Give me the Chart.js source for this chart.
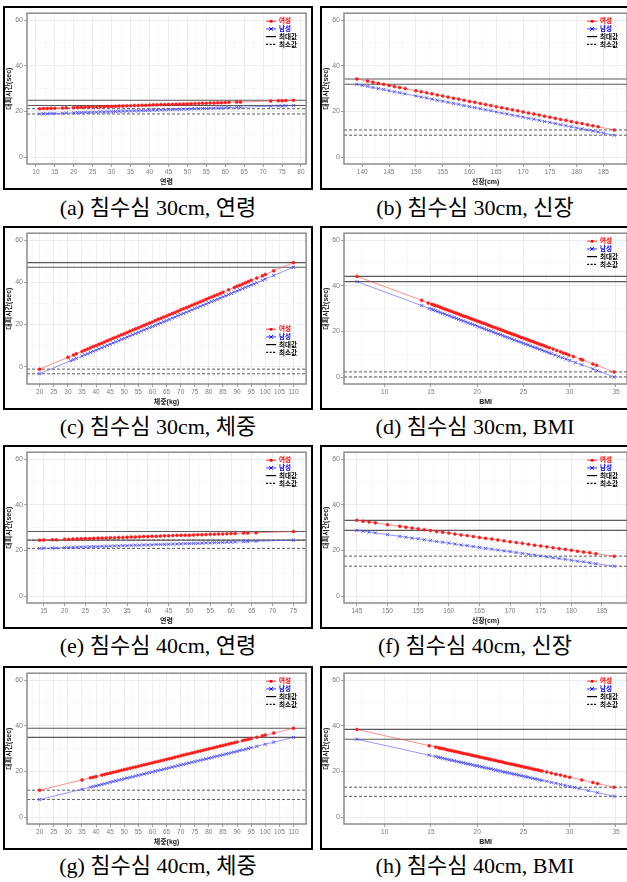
<!DOCTYPE html>
<html lang="ko">
<head>
<meta charset="UTF-8" />
<title>침수심별 대피시간</title>
<script src="https://cdn.jsdelivr.net/npm/chart.js"></script>
<style>
  html, body { margin: 0; padding: 0; background: #fff; overflow: hidden; }
  body { width: 627px; height: 882px; position: relative; }
  .panel { position: absolute; border: 2px solid #000; width: 306px; height: 180px; }
  .panel.r { width: 310px; }
  .panel canvas { display: block; }
  .cap { position: absolute; width: 310px; height: 26px; line-height: 26px; text-align: center;
         font-family: "Liberation Serif", "Noto Sans CJK KR", serif; font-size: 22px; color: #000; white-space: nowrap; }
</style>
</head>
<body>

<!-- row 1 -->
<div class="panel" style="left:3px; top:6px;"><canvas id="cA" width="306" height="180"></canvas></div>
<div class="panel r" style="left:320px; top:6px;"><canvas id="cB" width="310" height="180"></canvas></div>
<div class="cap" style="left:3px; top:195px;">(a) 침수심 30cm, 연령</div>
<div class="cap" style="left:320px; top:195px;">(b) 침수심 30cm, 신장</div>

<!-- row 2 -->
<div class="panel" style="left:3px; top:226px;"><canvas id="cC" width="306" height="180"></canvas></div>
<div class="panel r" style="left:320px; top:226px;"><canvas id="cD" width="310" height="180"></canvas></div>
<div class="cap" style="left:3px; top:414px;">(c) 침수심 30cm, 체중</div>
<div class="cap" style="left:320px; top:414px;">(d) 침수심 30cm, BMI</div>

<!-- row 3 -->
<div class="panel" style="left:3px; top:445px;"><canvas id="cE" width="306" height="180"></canvas></div>
<div class="panel r" style="left:320px; top:445px;"><canvas id="cF" width="310" height="180"></canvas></div>
<div class="cap" style="left:3px; top:633px;">(e) 침수심 40cm, 연령</div>
<div class="cap" style="left:320px; top:633px;">(f) 침수심 40cm, 신장</div>

<!-- row 4 -->
<div class="panel" style="left:3px; top:666px;"><canvas id="cG" width="306" height="180"></canvas></div>
<div class="panel r" style="left:320px; top:666px;"><canvas id="cH" width="310" height="180"></canvas></div>
<div class="cap" style="left:3px; top:853px;">(g) 침수심 40cm, 체중</div>
<div class="cap" style="left:320px; top:853px;">(h) 침수심 40cm, BMI</div>

<script>
// ---- tick labels ----
const yTicks = [0, 20, 40, 60];
const ageTicksA = [10, 15, 20, 25, 30, 35, 40, 45, 50, 55, 60, 65, 70, 75, 80];
const heightTicksB = [140, 145, 150, 155, 160, 165, 170, 175, 180, 185];
const weightTicks = [20, 25, 30, 35, 40, 45, 50, 55, 60, 65, 70, 75, 80, 85, 90, 95, 100, 105, 110];
const bmiTicks = [10, 15, 20, 25, 30, 35];
const ageTicksE = [15, 20, 25, 30, 35, 40, 45, 50, 55, 60, 65, 70, 75];
const heightTicksF = [145, 150, 155, 160, 165, 170, 175, 180, 185];

// ---- (a) 30cm, 연령 ----
const aAge = [11,12,13,14,15,17,18,20,21,22,23,24,25,26,27,28,29,30,31,32,33,34,35,36,37,38,39,40,41,42,43,44,45,46,47,48,49,50,51,52,53,54,55,56,57,58,59,60,61,63,64,72,74,75,76,78];
const aFemale = [21.2,21.3,21.3,21.4,21.4, 21.5,21.6,
  21.7,21.8,21.8,21.9,21.9,22.0,22.0,22.1,22.1,22.2,
  22.2,22.3,22.4,22.4,22.5,22.5,22.6,22.6,22.7,22.7,
  22.8,22.9,22.9,23.0,23.0,23.1,23.1,23.2,23.2,23.3,
  23.3,23.4,23.5,23.5,23.6,23.6,23.7,23.7,23.8,23.8,
  23.9,24.0, 24.1,24.1, 24.6,24.7,24.7,24.8,24.9];
const aMale = [18.9,19.0,19.0,19.1,19.1, 19.2,19.3,
  19.4,19.5,19.5,19.6,19.6,19.7,19.7,19.8,19.8,19.9,
  19.9,20.0,20.1,20.1,20.2,20.2,20.3,20.3,20.4,20.4,
  20.5,20.6,20.6,20.7,20.7,20.8,20.8,20.9,20.9,21.0,
  21.0,21.1,21.2,21.2,21.3,21.3,21.4,21.4,21.5,21.5,
  21.6,21.7, 21.8,21.8, 22.3,22.4,22.4,22.5,22.6];
const aMax = [24.9, 22.6];
const aMin = [21.2, 18.9];

// ---- (b) 30cm, 신장 ----
const bHeightF = [139,141,142,143,144,145,146,147,148,150,151,152,153,154,155,156,157,158,159,160,161,162,163,164,165,166,167,168,169,170,171,172,173,174,175,176,177,178,179,180,181,182,183,184,187];
const bFemale = [34.2, 33.3,32.8,32.3,31.9,31.4,30.9,30.5,30.0,
  29.1,28.6,28.2,27.7,27.2,26.8,26.3,25.8,25.4,24.9,
  24.4,24.0,23.5,23.0,22.6,22.1,21.6,21.2,20.7,20.3,
  19.8,19.3,18.9,18.4,17.9,17.5,17.0,16.5,16.1,15.6,
  15.1,14.7,14.2,13.7,13.3, 11.9];
const bHeightM = [139,140,141,142,143,144,145,146,147,148,150,151,152,153,154,155,156,157,158,159,160,161,162,163,164,165,166,167,168,169,170,171,172,173,174,175,176,177,178,179,180,181,182,183,184,185,187];
const bMale = [31.9,31.4,31.0,30.5,30.0,29.6,29.1,28.6,28.2,27.7,
  26.8,26.3,25.9,25.4,24.9,24.5,24.0,23.5,23.1,22.6,
  22.1,21.7,21.2,20.7,20.3,19.8,19.3,18.9,18.4,18.0,
  17.5,17.0,16.6,16.1,15.6,15.2,14.7,14.2,13.8,13.3,
  12.8,12.4,11.9,11.4,11.0,10.5, 9.6];
const bMax = [34.2, 31.9];
const bMin = [11.9, 9.6];

// ---- (c) 30cm, 체중 ----
const cWeightF = [20,30,32,33,35,36,37,38,39,40,41,42,43,44,45,46,47,48,49,50,51,52,53,54,55,56,57,58,59,60,61,62,63,64,65,66,67,68,69,70,71,72,73,74,75,76,77,78,79,80,81,82,83,84,85,87,89,90,91,92,93,94,95,97,99,100,103,110];
const cFemale = [-1.2,4.4,5.5,6.1,
  7.2,7.8,8.3,8.9,9.5,
  10.0,10.6,11.1,11.7,12.3,12.8,13.4,13.9,14.5,15.1,
  15.6,16.2,16.8,17.3,17.9,18.4,19.0,19.6,20.1,20.7,
  21.2,21.8,22.4,22.9,23.5,24.0,24.6,25.2,25.7,26.3,
  26.9,27.4,28.0,28.5,29.1,29.7,30.2,30.8,31.3,31.9,
  32.5,33.0,33.6,34.1,34.7,35.3,
  36.4,37.5,38.1,38.6,39.2,39.8,40.3,40.9,42.0,43.1,43.7,45.4,49.3];
const cWeightM = [20,31,32,33,35,36,37,38,39,40,41,42,43,44,45,46,47,48,49,50,51,52,53,54,55,56,57,58,59,60,61,62,63,64,65,66,67,68,69,70,71,72,73,74,75,76,77,78,79,80,81,82,83,84,85,86,87,88,89,90,91,92,93,94,95,96,97,99,100,103,110];
const cMale = [-3.4,2.8,3.3,3.9,
  5.0,5.6,6.1,6.7,7.3,
  7.8,8.4,8.9,9.5,10.1,10.6,11.2,11.7,12.3,12.9,
  13.4,14.0,14.6,15.1,15.7,16.2,16.8,17.4,17.9,18.5,
  19.0,19.6,20.2,20.7,21.3,21.8,22.4,23.0,23.5,24.1,
  24.7,25.2,25.8,26.3,26.9,27.5,28.0,28.6,29.1,29.7,
  30.3,30.8,31.4,31.9,32.5,33.1,33.6,34.2,34.7,35.3,
  35.9,36.4,37.0,37.6,38.1,38.7,39.2,39.8,
  40.9,41.5,43.2,47.1];
const cMax = [49.3, 47.1];
const cMin = [-1.2, -3.4];

// ---- (d) 30cm, BMI ----
const dBmiF = [7,14,14.7,15.1,15.3,
  15.5,15.75,16,16.25,16.5,16.75,17,17.25,17.5,17.75,
  18,18.25,18.5,18.75,19,19.25,19.5,19.75,20,20.25,
  20.5,20.75,21,21.25,21.5,21.75,22,22.25,22.5,22.75,
  23,23.25,23.5,23.75,24,24.25,24.5,24.75,25,25.25,
  25.5,25.75,26,26.25,26.5,26.75,27,27.25,27.5,
  27.8,28.2,28.6,29,29.3,29.6,29.9,30.4,31.2,31.4,32.5,32.9,34.8];
const dFemale = [44.1,33.6,32.5,31.9,31.6,
  31.3,31.0,30.6,30.2,29.8,29.5,29.1,28.7,28.3,28.0,
  27.6,27.2,26.8,26.5,26.1,25.7,25.3,25.0,24.6,24.2,
  23.8,23.5,23.1,22.7,22.3,21.9,21.6,21.2,20.8,20.4,
  20.1,19.7,19.3,18.9,18.6,18.2,17.8,17.4,17.1,16.7,
  16.3,15.9,15.6,15.2,14.8,14.4,14.1,13.7,13.3,
  12.9,12.3,11.7,11.1,10.6,10.2,9.7,9.0,7.8,7.5,5.8,5.2,2.3];
const dBmiM = [7,14,14.8,15.1,
  15.25,15.5,15.75,16,16.25,16.5,16.75,17,17.25,17.5,17.75,
  18,18.25,18.5,18.75,19,19.25,19.5,19.75,20,20.25,
  20.5,20.75,21,21.25,21.5,21.75,22,22.25,22.5,22.75,
  23,23.25,23.5,23.75,24,24.25,24.5,24.75,25,25.25,
  25.5,25.75,26,26.25,26.5,26.75,27,27.25,27.5,27.75,28,
  28.4,28.8,29.2,29.6,30,30.6,31.3,32.5,33,34.8];
const dMale = [41.8,31.3,30.1,29.7,
  29.4,29.1,28.7,28.3,27.9,27.6,27.2,26.8,26.4,26.1,25.7,
  25.3,24.9,24.6,24.2,23.8,23.4,23.1,22.7,22.3,21.9,
  21.6,21.2,20.8,20.4,20.1,19.7,19.3,18.9,18.6,18.2,
  17.8,17.4,17.1,16.7,16.3,15.9,15.6,15.2,14.8,14.4,
  14.1,13.7,13.3,12.9,12.6,12.2,11.8,11.4,11.1,10.7,10.3,
  9.7,9.1,8.5,7.9,7.3,6.4,5.4,3.6,2.8,0.1];
const dMax = [44.1, 41.8];
const dMin = [2.3, 0.1];

// ---- (e) 40cm, 연령 ----
const eAge = [14,15,17,18,20,21,22,23,24,25,26,27,28,29,30,31,32,33,34,35,36,37,38,39,40,41,42,43,44,45,46,47,48,49,50,51,52,53,54,55,56,57,58,59,60,61,63,64,66,75];
const eFemale = [24.5,24.6,24.7,24.7,
  24.9,24.9,25.0,25.1,25.1,25.2,25.2,25.3,25.4,25.4,
  25.5,25.6,25.6,25.7,25.7,25.8,25.9,25.9,26.0,26.1,
  26.1,26.2,26.2,26.3,26.4,26.4,26.5,26.6,26.6,26.7,
  26.7,26.8,26.9,26.9,27.0,27.1,27.1,27.2,27.2,27.3,
  27.4,27.4, 27.6,27.6,27.7,28.3];
const eMale = [20.9,21.0,21.1,21.1,
  21.3,21.3,21.4,21.4,21.5,21.5,21.6,21.7,21.7,21.8,
  21.8,21.9,22.0,22.0,22.1,22.1,22.2,22.3,22.3,22.4,
  22.4,22.5,22.6,22.6,22.7,22.7,22.8,22.8,22.9,23.0,
  23.0,23.1,23.1,23.2,23.3,23.3,23.4,23.4,23.5,23.6,
  23.6,23.7, 23.8,23.9,24.0,24.5];
const eMax = [28.3, 24.5];
const eMin = [24.5, 20.9];

// ---- (f) 40cm, 신장 ----
const fHeight = [145,146,147,148,150,152,153,154,155,156,157,158,159,160,161,162,163,164,165,166,167,168,169,170,171,172,173,174,175,176,177,178,179,180,181,182,183,184,187];
const fFemale = [33.2,32.8,32.5,32.1,31.3,30.6,
  30.2,29.8,29.5,29.1,28.7,28.3,28.0,27.6,27.2,26.8,
  26.5,26.1,25.7,25.3,25.0,24.6,24.2,23.8,23.5,23.1,
  22.7,22.3,22.0,21.6,21.2,20.8,20.5,20.1,19.7,19.3,
  19.0,18.6, 17.5];
const fMale = [28.8,28.4,28.1,27.7,26.9,26.2,
  25.8,25.4,25.1,24.7,24.3,23.9,23.6,23.2,22.8,22.4,
  22.1,21.7,21.3,20.9,20.6,20.2,19.8,19.5,19.1,18.7,
  18.3,18.0,17.6,17.2,16.8,16.5,16.1,15.7,15.3,15.0,
  14.6,14.2, 13.1];
const fMax = [33.2, 28.8];
const fMin = [17.5, 13.1];

// ---- (g) 40cm, 체중 ----
const gWeightF = [20,35,38,39,40,42,43,44,45,46,47,48,49,50,51,52,53,54,55,56,57,58,59,60,61,62,63,64,65,66,67,68,69,70,71,72,73,74,75,76,77,78,79,80,81,82,83,84,85,86,87,88,89,90,92,93,94,95,97,99,100,103,110];
const gFemale = [11.8,16.3,17.2,17.5,17.8,
  18.4,18.7,19.0,19.3,19.6,19.9,20.2,20.5,
  20.8,21.1,21.4,21.7,22.0,22.3,22.6,22.9,23.2,23.5,
  23.8,24.1,24.4,24.7,25.0,25.3,25.6,25.9,26.2,26.5,
  26.9,27.2,27.5,27.8,28.1,28.4,28.7,29.0,29.3,29.6,
  29.9,30.2,30.5,30.8,31.1,31.4,31.7,32.0,32.3,32.6,
  32.9, 33.5,33.8,34.1,34.4,35.0,35.6,35.9,36.8,38.9];
const gWeightM = [20,35,38,39,40,41,42,43,44,45,46,47,48,49,50,51,52,53,54,55,56,57,58,59,60,61,62,63,64,65,66,67,68,69,70,71,72,73,74,75,76,77,78,79,80,81,82,83,84,85,86,87,88,89,90,91,92,93,94,95,97,100,103,110];
const gMale = [7.7,12.2,13.1,13.4,
  13.7,14.0,14.3,14.6,14.9,15.3,15.6,15.9,16.2,16.5,
  16.8,17.1,17.4,17.7,18.0,18.3,18.6,18.9,19.2,19.5,
  19.8,20.1,20.4,20.7,21.0,21.3,21.6,21.9,22.2,22.5,
  22.8,23.1,23.4,23.7,24.0,24.3,24.6,24.9,25.2,25.5,
  25.8,26.1,26.4,26.7,27.0,27.3,27.6,27.9,28.2,28.5,
  28.8,29.2,29.4,29.7,30.1,30.4,
  31.0,31.9,32.8,34.9];
const gMax = [38.9, 34.9];
const gMin = [11.8, 7.7];

// ---- (h) 40cm, BMI ----
const hBmiF = [7,14.8,15.5,15.8,
  16,16.25,16.5,16.75,17,17.25,17.5,17.75,18,18.25,
  18.5,18.75,19,19.25,19.5,19.75,20,20.25,20.5,20.75,
  21,21.25,21.5,21.75,22,22.25,22.5,22.75,23,23.25,
  23.5,23.75,24,24.25,24.5,24.75,25,25.25,25.5,25.75,
  26,26.25,26.5,26.75,27,
  27.5,28,28.5,29,29.5,30,31.3,32.5,33,34.8];
const hFemale = [38.4,31.3,30.7,30.4,
  30.2,30.0,29.8,29.5,29.3,29.1,28.8,28.6,28.4,28.2,
  27.9,27.7,27.5,27.3,27.0,26.8,26.6,26.3,26.1,25.9,
  25.7,25.4,25.2,25.0,24.8,24.5,24.3,24.1,23.8,23.6,
  23.4,23.2,22.9,22.7,22.5,22.3,22.0,21.8,21.6,21.3,
  21.1,20.9,20.7,20.4,20.2,
  19.8,19.3,18.8,18.4,17.9,17.5,16.3,15.2,14.7,13.1];
const hBmiM = [7,14.8,15.5,15.8,
  16,16.25,16.5,16.75,17,17.25,17.5,17.75,18,18.25,
  18.5,18.75,19,19.25,19.5,19.75,20,20.25,20.5,20.75,
  21,21.25,21.5,21.75,22,22.25,22.5,22.75,23,23.25,
  23.5,23.75,24,24.25,24.5,24.75,25,25.25,25.5,25.75,
  26,26.25,26.5,26.75,27,
  27.5,28,28.5,29,29.5,30,30.5,31,32,33,34.8];
const hMale = [34.1,27.1,26.5,26.2,
  26.0,25.8,25.6,25.3,25.1,24.9,24.7,24.4,24.2,24.0,
  23.8,23.5,23.3,23.1,22.9,22.6,22.4,22.2,22.0,21.7,
  21.5,21.3,21.1,20.8,20.6,20.4,20.2,19.9,19.7,19.5,
  19.3,19.0,18.8,18.6,18.4,18.1,17.9,17.7,17.5,17.2,
  17.0,16.8,16.6,16.3,16.1,
  15.7,15.2,14.8,14.3,13.9,13.4,13.0,12.5,11.6,10.7,9.1];
const hMax = [38.4, 34.1];
const hMin = [13.1, 9.1];

Chart.defaults.font.family = "'Liberation Sans', 'Noto Sans CJK KR', sans-serif";
Chart.defaults.animation = false;

const pts = (xs, ys) => xs.map((x, i) => ({ x: x, y: ys[i] }));

// major ticks plus minor midpoints (for the light minor grid)
function tickBuilder(major) {
  return scale => {
    const out = [];
    for (let i = 0; i < major.length; i++) {
      const step = i < major.length - 1 ? major[i + 1] - major[i] : major[i] - major[i - 1];
      if (i === 0 && major[0] - step / 2 >= scale.min) out.push({ value: major[0] - step / 2 });
      out.push({ value: major[i] });
      const mid = major[i] + step / 2;
      if (mid <= scale.max) out.push({ value: mid });
    }
    scale.ticks = out.filter(t => t.value >= scale.min && t.value <= scale.max);
  };
}

const hlines = {
  id: 'hlines',
  beforeDatasetsDraw(chart, args, opts) {
    const { ctx, chartArea: a, scales: { y } } = chart;
    ctx.save();
    ctx.strokeStyle = '#5a5a5a';
    ctx.lineWidth = 1.2;
    opts.max.forEach(v => {
      const py = y.getPixelForValue(v);
      ctx.beginPath(); ctx.moveTo(a.left, py); ctx.lineTo(a.right, py); ctx.stroke();
    });
    ctx.setLineDash([3, 2]);
    ctx.lineWidth = 1;
    opts.min.forEach(v => {
      const py = y.getPixelForValue(v);
      ctx.beginPath(); ctx.moveTo(a.left, py); ctx.lineTo(a.right, py); ctx.stroke();
    });
    ctx.restore();
  }
};

const frame = {
  id: 'frame',
  afterDatasetsDraw(chart) {
    const { ctx, chartArea: a } = chart;
    ctx.save();
    ctx.strokeStyle = '#8c8c8c';
    ctx.lineWidth = 1.5;
    ctx.strokeRect(a.left, a.top, a.right - a.left, a.bottom - a.top);
    ctx.restore();
  }
};

const keyLegend = {
  id: 'keyLegend',
  afterDraw(chart, args, opts) {
    const { ctx, chartArea: a } = chart;
    const x0 = a.right - 40, x1 = a.right - 30, tx = a.right - 27;
    const items = [
      { text: '여성', color: '#ff0000', line: 'rgba(255,40,40,0.8)', mark: 'dot' },
      { text: '남성', color: '#0000ff', line: 'rgba(40,40,255,0.8)', mark: 'x' },
      { text: '최대값', color: '#000', line: '#000', dash: [] },
      { text: '최소값', color: '#000', line: '#000', dash: [2, 1.5] }
    ];
    ctx.save();
    ctx.font = "bold 6.5px 'Liberation Sans', 'Noto Sans CJK KR', sans-serif";
    ctx.textBaseline = 'middle';
    items.forEach((it, i) => {
      const y = a.top + opts.top + i * 7.7;
      ctx.strokeStyle = it.line;
      ctx.lineWidth = 1.2;
      ctx.setLineDash(it.dash || []);
      ctx.beginPath(); ctx.moveTo(x0, y); ctx.lineTo(x1, y); ctx.stroke();
      ctx.setLineDash([]);
      const cx = (x0 + x1) / 2;
      if (it.mark === 'dot') {
        ctx.fillStyle = '#ff0000';
        ctx.beginPath(); ctx.arc(cx, y, 1.5, 0, Math.PI * 2); ctx.fill();
      } else if (it.mark === 'x') {
        ctx.strokeStyle = '#0000ff';
        ctx.lineWidth = 1;
        ctx.beginPath();
        ctx.moveTo(cx - 1.8, y - 1.8); ctx.lineTo(cx + 1.8, y + 1.8);
        ctx.moveTo(cx - 1.8, y + 1.8); ctx.lineTo(cx + 1.8, y - 1.8);
        ctx.stroke();
      }
      ctx.fillStyle = it.color;
      ctx.fillText(it.text, tx, y + 0.5);
    });
    ctx.restore();
  }
};

function makeChart(id, p) {
  const xMajor = p.xTicks;
  const isMajor = (list, v) => list.some(m => Math.abs(m - v) < 1e-9);
  new Chart(document.getElementById(id), {
    type: 'scatter',
    data: {
      datasets: [
        {
          data: pts(p.xf, p.female), showLine: true,
          borderColor: 'rgba(255,70,70,0.6)', borderWidth: 1,
          pointStyle: 'circle', pointRadius: 1.5,
          pointBackgroundColor: '#ff1a1a', pointBorderColor: '#ff1a1a', pointBorderWidth: 0.5
        },
        {
          data: pts(p.xm, p.male), showLine: true,
          borderColor: 'rgba(80,80,255,0.6)', borderWidth: 1,
          pointStyle: 'crossRot', pointRadius: 2.2,
          pointBackgroundColor: '#4a4aff', pointBorderColor: '#4a4aff', pointBorderWidth: 0.9
        }
      ]
    },
    options: {
      responsive: false,
      devicePixelRatio: 1,
      layout: { padding: { top: 4, right: p.padRight, left: 0, bottom: 0 } },
      plugins: {
        legend: { display: false },
        tooltip: { enabled: false },
        hlines: { max: p.max, min: p.min },
        keyLegend: { top: p.legendTop }
      },
      scales: {
        x: {
          type: 'linear', min: p.xRange[0], max: p.xRange[1],
          afterBuildTicks: tickBuilder(xMajor),
          afterFit: s => { s.height = 24; },
          border: { display: false },
          grid: {
            color: c => isMajor(xMajor, c.tick.value) ? '#e9e9e9' : '#f4f4f4',
            lineWidth: c => isMajor(xMajor, c.tick.value) ? 0.8 : 0.6,
            tickColor: c => isMajor(xMajor, c.tick.value) ? '#8c8c8c' : 'rgba(0,0,0,0)',
            tickLength: 3
          },
          ticks: {
            autoSkip: false, maxRotation: 0, padding: 1, color: '#7a7a7a',
            font: { size: 6.5 },
            callback: v => isMajor(xMajor, v) ? String(v) : ''
          },
          title: {
            display: true, text: p.xTitle, color: '#222',
            font: { size: 7, weight: 'bold' }, padding: { top: 0, bottom: 1.5 }
          }
        },
        y: {
          type: 'linear', min: p.yRange[0], max: p.yRange[1],
          afterBuildTicks: tickBuilder(yTicks),
          afterFit: s => { s.width = 22; },
          border: { display: false },
          grid: {
            color: c => isMajor(yTicks, c.tick.value) ? '#e9e9e9' : '#f4f4f4',
            lineWidth: c => isMajor(yTicks, c.tick.value) ? 0.8 : 0.6,
            tickColor: c => isMajor(yTicks, c.tick.value) ? '#8c8c8c' : 'rgba(0,0,0,0)',
            tickLength: 3
          },
          ticks: {
            autoSkip: false, padding: 1, color: '#7a7a7a',
            font: { size: 7 },
            callback: v => isMajor(yTicks, v) ? String(v) : ''
          },
          title: {
            display: true, text: '대피시간(sec)', color: '#222',
            font: { size: 7, weight: 'bold' }, padding: { top: 0, bottom: 0 }
          }
        }
      }
    },
    plugins: [hlines, frame, keyLegend]
  });
}

makeChart('cA', { xf: aAge, female: aFemale, xm: aAge, male: aMale, max: aMax, min: aMin,
  xRange: [7.65, 81.35], yRange: [-3, 63], xTicks: ageTicksA, xTitle: '연령', legendTop: 8, padRight: 0 });
makeChart('cB', { xf: bHeightF, female: bFemale, xm: bHeightM, male: bMale, max: bMax, min: bMin,
  xRange: [136.6, 189.4], yRange: [-3, 63], xTicks: heightTicksB, xTitle: '신장(cm)', legendTop: 8, padRight: 2 });
makeChart('cC', { xf: cWeightF, female: cFemale, xm: cWeightM, male: cMale, max: cMax, min: cMin,
  xRange: [15.5, 114.5], yRange: [-8.25, 63.25], xTicks: weightTicks, xTitle: '체중(kg)', legendTop: 96, padRight: 0 });
makeChart('cD', { xf: dBmiF, female: dFemale, xm: dBmiM, male: dMale, max: dMax, min: dMin,
  xRange: [5.6, 36.2], yRange: [-3, 63], xTicks: bmiTicks, xTitle: 'BMI', legendTop: 8, padRight: 2 });
makeChart('cE', { xf: eAge, female: eFemale, xm: eAge, male: eMale, max: eMax, min: eMin,
  xRange: [10.95, 78.05], yRange: [-3, 63], xTicks: ageTicksE, xTitle: '연령', legendTop: 8, padRight: 0 });
makeChart('cF', { xf: fHeight, female: fFemale, xm: fHeight, male: fMale, max: fMax, min: fMin,
  xRange: [142.9, 189.1], yRange: [-3, 63], xTicks: heightTicksF, xTitle: '신장(cm)', legendTop: 8, padRight: 2 });
makeChart('cG', { xf: gWeightF, female: gFemale, xm: gWeightM, male: gMale, max: gMax, min: gMin,
  xRange: [15.5, 114.5], yRange: [-3, 63], xTicks: weightTicks, xTitle: '체중(kg)', legendTop: 8, padRight: 0 });
makeChart('cH', { xf: hBmiF, female: hFemale, xm: hBmiM, male: hMale, max: hMax, min: hMin,
  xRange: [5.6, 36.2], yRange: [-3, 63], xTicks: bmiTicks, xTitle: 'BMI', legendTop: 8, padRight: 2 });
</script>
</body>
</html>
